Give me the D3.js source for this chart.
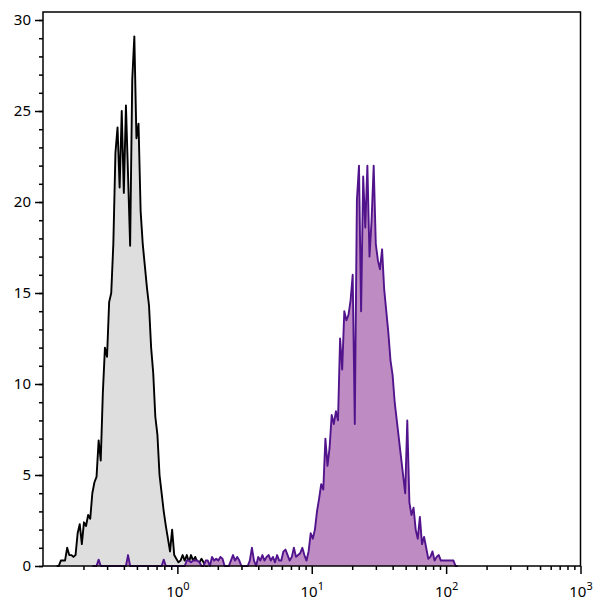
<!DOCTYPE html>
<html>
<head>
<meta charset="utf-8">
<script src="https://cdn.jsdelivr.net/npm/d3@7"></script>
<style>
  html, body { margin: 0; padding: 0; background: #fff; }
  svg { display: block; }
  text { font-family: "Noto Sans", "Open Sans", sans-serif; fill: #000; }
</style>
</head>
<body>
<svg id="chart" width="600" height="607"></svg>
<script>
// ---- data (log-channel histograms, 64 channels per decade starting at 10^-1) ----
const channelsPerDecade = 64;
const firstDecadeExp = -1;

const grayStart = 7;
const grayCounts = [
  0, 0.3, 0.3, 0.3, 1.0, 0.6, 0.6, 0.5, 0.6, 1.8,
  2.3, 1.2, 2.4, 2.2, 2.8, 2.6, 4.0, 4.6, 4.9, 6.9,
  5.8, 9.5, 12.0, 11.5, 14.5, 15.0, 17.7, 22.7, 24.1, 20.8,
  25.0, 20.5, 25.3, 21.5, 17.6, 26.7, 29.1, 23.5, 24.3, 19.5,
  17.7, 16.5, 15.3, 14.3, 12.0, 10.6, 8.2, 7.2, 5.0, 4.0,
  3.0, 2.2, 1.5, 0.8, 2.0, 0.6, 0.4, 0.2, 0.3, 0.6,
  0.3, 0.6, 0.2, 0.6, 0.3, 0.5, 0.2, 0.2, 0.4, 0.2,
  0
];

const purpleStart = 24;
const purpleCounts = [
  0, 0, 0.35, 0, 0, 0, 0, 0, 0, 0,            // 24-33
  0, 0, 0, 0, 0, 0, 0.6, 0, 0, 0,             // 34-43
  0, 0, 0, 0, 0, 0, 0, 0, 0, 0,               // 44-53
  0, 0, 0, 0.35, 0, 0, 0, 0, 0, 0,            // 54-63
  0, 0, 0, 0, 0.3, 0.3, 0.2, 0.3, 0.3, 0.3,   // 64-73
  0.2, 0, 0, 0.3, 0.3, 0, 0.5, 0.3, 0.4, 0.3, // 74-83
  0.5, 0.4, 0, 0, 0, 0.3, 0.6, 0.3, 0.5, 0.3, // 84-93
  0, 0, 0, 0, 0.3, 1.0, 0.3, 0, 0.5, 0.3,     // 94-103
  0.6, 0.3, 0.5, 0.6, 0.3, 0.5, 0.2, 0.6, 0.3, 0.3, // 104-113
  0.8, 0.9, 0.6, 0.3, 0.5, 1.0, 0.5, 0.6, 0.7, 1.0, // 114-123
  0.6, 0.3, 0.8, 1.8, 1.5, 2.0, 3.0, 3.7, 4.5, 4.2, // 124-133
  7.0, 5.5, 6.5, 8.3, 7.8, 8.5, 8.0, 12.5, 10.8, 14.0, // 134-143
  13.5, 13.8, 14.6, 16.0, 7.8, 20.1, 22.0, 14.0, 21.4, 18.6, // 144-153
  22.0, 17.0, 19.0, 22.0, 17.7, 16.8, 16.3, 17.4, 15.2, 14.0, // 154-163
  12.8, 11.3, 10.5, 9.0, 8.0, 7.0, 6.0, 5.0, 4.0, 8.0, // 164-173
  3.5, 2.8, 3.2, 2.0, 1.5, 2.7, 1.2, 1.6, 1.0, 0.4, // 174-183
  0.5, 0.8, 0.3, 0.5, 0.6, 0.3, 0.3, 0.3, 0.3, 0.3, // 184-193
  0.3, 0.3, 0                                      // 194-196
];

const yMajorTicks = [0, 5, 10, 15, 20, 25, 30];
const yMinorTicks = d3.range(0, 31, 1);
const xMajorExps = [0, 1, 2, 3];
const xMinorMultipliers = [2, 3, 4, 5, 6, 7, 8, 9];
const xMinorDecades = [-1, 0, 1, 2];

// ---- layout ----
const svg = d3.select("#chart");
const mLeft = 43, mRight = 580.5, mTop = 12, mBottom = 566;

const x = d3.scaleLog().domain([0.1, 1000]).range([mLeft, mRight]);
const y = d3.scaleLinear().domain([0, 30.44]).range([mBottom, mTop]);

function binCenter(i) {
  return Math.pow(10, firstDecadeExp + (i + 0.5) / channelsPerDecade);
}
function toPoints(start, counts) {
  const pts = counts.map((c, k) => ({ v: binCenter(start + k), c: c }));
  pts.unshift({ v: binCenter(start - 1), c: 0 });
  pts.push({ v: binCenter(start + counts.length), c: 0 });
  return pts;
}

const grayPts = toPoints(grayStart, grayCounts);
const purplePts = toPoints(purpleStart, purpleCounts);

const area = d3.area().x(d => x(d.v)).y0(y(0)).y1(d => y(d.c)).curve(d3.curveLinear);
const line = d3.line().x(d => x(d.v)).y(d => y(d.c)).curve(d3.curveLinear);

const plot = svg.append("g");
plot.append("path").datum(grayPts).attr("d", area).attr("fill", "#dedede");
plot.append("path").datum(grayPts).attr("d", line).attr("fill", "none")
  .attr("stroke", "#000").attr("stroke-width", 1.9).attr("stroke-linejoin", "round");
plot.append("path").datum(purplePts).attr("d", area).attr("fill", "#be8cc3");
plot.append("path").datum(purplePts).attr("d", line).attr("fill", "none")
  .attr("stroke", "#52148c").attr("stroke-width", 1.9).attr("stroke-linejoin", "round");

// frame
svg.append("rect").attr("x", mLeft).attr("y", mTop)
  .attr("width", mRight - mLeft).attr("height", mBottom - mTop)
  .attr("fill", "none").attr("stroke", "#000").attr("stroke-width", 1.5);

// y axis
const yMajorAxis = d3.axisLeft(y).tickValues(yMajorTicks).tickSize(8).tickPadding(4)
  .tickFormat(d3.format("d"));
const yMinorAxis = d3.axisLeft(y).tickValues(yMinorTicks).tickSize(4).tickFormat("");
const gyMinor = svg.append("g").attr("transform", `translate(${mLeft},0)`).call(yMinorAxis);
const gy = svg.append("g").attr("transform", `translate(${mLeft},0)`).call(yMajorAxis);
[gy, gyMinor].forEach(g => {
  g.select(".domain").remove();
  g.selectAll(".tick line").attr("stroke", "#000").attr("stroke-width", 1.5);
});
gy.selectAll(".tick text").attr("font-size", 15).attr("font-family", "'Noto Sans', sans-serif");

// x axis
const xMinorVals = [];
xMinorDecades.forEach(e => xMinorMultipliers.forEach(m => xMinorVals.push(m * Math.pow(10, e))));
const xMinorAxis = d3.axisBottom(x).tickValues(xMinorVals).tickSize(4).tickFormat("");
const xMajorAxis = d3.axisBottom(x).tickValues(xMajorExps.map(e => Math.pow(10, e))).tickSize(8).tickFormat("");
const gxMinor = svg.append("g").attr("transform", `translate(0,${mBottom})`).call(xMinorAxis);
const gx = svg.append("g").attr("transform", `translate(0,${mBottom})`).call(xMajorAxis);
[gx, gxMinor].forEach(g => {
  g.select(".domain").remove();
  g.selectAll(".tick line").attr("stroke", "#000").attr("stroke-width", 1.5);
});
gx.selectAll(".tick").each(function(d) {
  const e = Math.round(Math.log10(d));
  const t = d3.select(this).append("text")
    .attr("y", 31).attr("x", 0).attr("text-anchor", "middle")
    .attr("font-size", 15).attr("fill", "#000");
  t.append("tspan").text("10");
  t.append("tspan").attr("dy", -7).attr("font-size", 11).text(String(e));
});
</script>
</body>
</html>
